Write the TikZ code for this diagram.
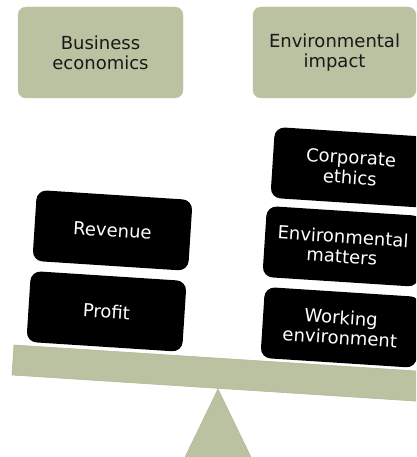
\documentclass[tikz,border=0pt]{standalone}
\usepackage{fontspec}
\setmainfont{DejaVu Sans}
\definecolor{olive}{RGB}{187,194,161}
\definecolor{olivedark}{RGB}{178,186,150}
\begin{document}
\begin{tikzpicture}[x=1pt,y=-1pt,
  topbox/.style={draw=olive!90!white, fill=olive, rounded corners=8pt,
    minimum width=#1, minimum height=91pt, inner sep=0pt, align=center,
    text=black!90, font=\fontsize{18}{20}\selectfont},
  blackbox/.style={fill=black, rounded corners=10pt, minimum width=156pt,
    minimum height=71pt, inner sep=0pt, align=center, text=white,
    rotate=-3.7, font=\fontsize{18}{20}\selectfont}]
\useasboundingbox (0,0) rectangle (416,457);
\clip (0,0) rectangle (416,457);
% beam
\path[fill=olive, draw=olivedark, line width=0.6pt]
  (14,345) -- (440,372.5) -- (438,402.5) -- (12,375) -- cycle;
\coordinate (apex) at (218,389);
\coordinate (bl) at (174,480);
\coordinate (br) at (262,480);
\path[fill=olive, draw=olivedark, line width=0.6pt] (apex) -- (br) -- (bl) -- cycle;
% top boxes
\node[topbox=165pt] (be) at (100.5,52.5) {Business\\economics};
\node[topbox=163pt] (ei) at (334.5,52.5) {Environmental\\impact};
% left pan
\node[blackbox] (rev) at (112.5,230.4) {Revenue};
\node[blackbox] (pro) at (106.5,311.4) {Profit};
% right pan
\node[blackbox] (ce) at (350.5,167.4) {Corporate\\ethics};
\node[blackbox] (em) at (342.5,246.4) {Environmental\\matters};
\node[blackbox] (we) at (340.5,327.4) {Working\\environment};
\end{tikzpicture}
\end{document}
